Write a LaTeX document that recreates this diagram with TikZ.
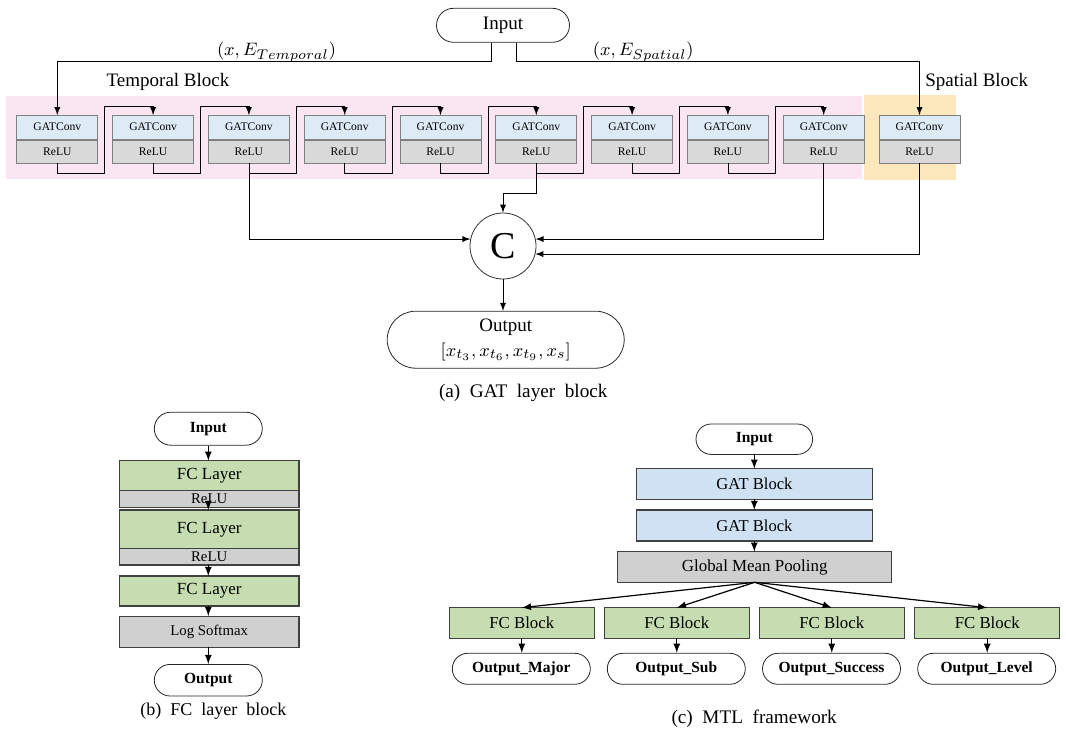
\documentclass[tikz,border=0pt]{standalone}
\usepackage{amsmath}
\usepackage{fontspec}
\setmainfont{Liberation Serif}
\usetikzlibrary{matrix, arrows, shapes.misc}

\definecolor{convblue}{HTML}{DDEBF7}
\definecolor{gatblue}{HTML}{CFE2F3}
\definecolor{relugray}{HTML}{D9D9D9}
\definecolor{poolgray}{HTML}{D0D0D0}
\definecolor{fcgreen}{HTML}{C5DDB1}
\definecolor{tempbg}{HTML}{FAE6F2}
\definecolor{spatbg}{HTML}{FDE8BE}

\begin{document}
\begin{tikzpicture}[x=0.5pt, y=-0.5pt, >=latex,
  term/.style={draw=black!85, rounded rectangle, inner sep=0pt},
  conv/.style={draw=black!50, fill=convblue, minimum width=40.5pt, minimum height=12pt, inner sep=0pt, outer sep=0pt, font=\fontsize{5.8}{6}\selectfont},
  relu/.style={conv, fill=relugray, minimum height=11.7pt},
  layer/.style={draw=black!75, line width=0.6pt, inner sep=0pt, outer sep=0pt},
  fcl/.style={layer, fill=fcgreen, minimum width=89.85pt, font=\fontsize{8.5}{9}\selectfont},
  actl/.style={layer, fill=poolgray, minimum width=89.85pt, font=\fontsize{7.4}{8}\selectfont},
  bigtxt/.style={font=\fontsize{9.5}{12.5}\selectfont},
  outtxt/.style={font=\bfseries\fontsize{7.75}{8}\selectfont},
  captxt/.style={font=\fontsize{9.6}{10}\selectfont}]
\useasboundingbox (0,0) rectangle (1066,734);
\fill[tempbg] (6,96) rectangle (861.7,179);
\fill[spatbg] (864,95) rectangle (956,180);

\node[term, bigtxt, minimum width=66.5pt, minimum height=17pt] (in) at (503,25.3) {Input};
\node[bigtxt] (et) at (276.5,52) {$(x, E_{Temporal})$};
\node[bigtxt] (es) at (643.3,52) {$(x, E_{Spatial})$};
\node[bigtxt] (tb) at (168,82) {Temporal Block};
\node[bigtxt] (sb) at (976.7,82) {Spatial Block};

\matrix (m) [anchor=north west, inner sep=0pt, column sep=7pt, row sep=0pt] at (16,114.3) {
\node[conv](g1){GATConv}; & \node[conv](g2){GATConv}; & \node[conv](g3){GATConv}; & \node[conv](g4){GATConv}; & \node[conv](g5){GATConv}; & \node[conv](g6){GATConv}; & \node[conv](g7){GATConv}; & \node[conv](g8){GATConv}; & \node[conv](g9){GATConv}; & \node[conv](gs){GATConv}; \\
\node[relu](r1){ReLU}; & \node[relu](r2){ReLU}; & \node[relu](r3){ReLU}; & \node[relu](r4){ReLU}; & \node[relu](r5){ReLU}; & \node[relu](r6){ReLU}; & \node[relu](r7){ReLU}; & \node[relu](r8){ReLU}; & \node[relu](r9){ReLU}; & \node[relu](rs){ReLU}; \\
};

\coordinate (a1) at (491.7,61.7);
\coordinate (a2) at (516,61.7);
\draw[->] (in.south -| a1) -- (a1) -| (g1.north);
\draw[->] (in.south -| a2) -- (a2) -| (gs.north);

\draw[->] (r1.south) -- ++(0,10) -| ++(47.5,-67.4) -| (g2.north);
\draw[->] (r2.south) -- ++(0,10) -| ++(47.5,-67.4) -| (g3.north);
\draw[->] (r3.south) -- ++(0,10) -| ++(47.5,-67.4) -| (g4.north);
\draw[->] (r4.south) -- ++(0,10) -| ++(47.5,-67.4) -| (g5.north);
\draw[->] (r5.south) -- ++(0,10) -| ++(47.5,-67.4) -| (g6.north);
\draw[->] (r6.south) -- ++(0,10) -| ++(47.5,-67.4) -| (g7.north);
\draw[->] (r7.south) -- ++(0,10) -| ++(47.5,-67.4) -| (g8.north);
\draw[->] (r8.south) -- ++(0,10) -| ++(47.5,-67.4) -| (g9.north);

\node[circle, draw=black!80, minimum size=33pt, inner sep=0pt, font=\fontsize{19}{20}\selectfont] (C) at (503,246) {C};
\draw[->] (r3.south) |- (C.168);
\draw[->] (r6.south) -- ++(0,30) -| (C.north);
\draw[->] (r9.south) |- (C.12);
\draw[->] (rs.south) |- (C.-14);

\node[term, bigtxt, minimum width=118.5pt, minimum height=28.5pt, align=center] (out) at (505.7,339.7) {Output\\$[x_{t_3}, x_{t_6}, x_{t_9}, x_s]$};
\draw[->] (C.south) -- (C.south |- out.north);
\node[captxt] (capa) at (523.3,393) {(a)\ \ GAT\ \ layer\ \ block};

\node[term, outtxt, minimum width=54pt, minimum height=16.5pt] (inb) at (208.3,428.7) {Input};
\node[fcl, minimum height=15pt] (fc1) at (209.2,475.7) {FC Layer};
\node[actl, minimum height=8.3pt] (ac1) at (209.2,499) {ReLU};
\node[fcl, minimum height=19.15pt] (fc2) at (209.2,529.2) {FC Layer};
\node[actl, minimum height=8.35pt] (ac2) at (209.2,556.7) {ReLU};
\node[fcl, minimum height=15pt] (fc3) at (209.2,591) {FC Layer};
\node[actl, minimum height=15.6pt] (lsm) at (209.2,631.7) {Log Softmax};
\node[term, outtxt, minimum width=54pt, minimum height=15.8pt] (outb) at (208.3,680.2) {Output};
\draw[->, line width=0.6pt] (inb.south) -- (inb.south |- fc1.north);
\draw[->, line width=0.6pt] (inb.south |- ac1.south) -- (inb.south |- fc2.north);
\draw[->, line width=0.6pt] (inb.south |- ac2.south) -- (inb.south |- fc3.north);
\draw[->, line width=0.6pt] (inb.south |- fc3.south) -- (inb.south |- lsm.north);
\draw[->, line width=0.6pt] (inb.south |- lsm.south) -- (outb.north);
\node[captxt, font=\fontsize{9}{10}\selectfont] (capb) at (213.3,710.7) {(b)\ \ FC\ \ layer\ \ block};

\node[term, outtxt, minimum width=58.3pt, minimum height=15.2pt] (inc) at (754.3,439.2) {Input};
\node[layer, fill=gatblue, minimum width=117.8pt, minimum height=15.3pt, font=\fontsize{8.3}{9}\selectfont] (gat1) at (754.5,484) {GAT Block};
\node[layer, fill=gatblue, minimum width=117.8pt, minimum height=15.5pt, font=\fontsize{8.3}{9}\selectfont] (gat2) at (754.5,525.5) {GAT Block};
\node[layer, fill=poolgray, minimum width=137pt, minimum height=15.3pt, font=\fontsize{8.45}{9}\selectfont] (gmp) at (754.7,567) {Global Mean Pooling};
\node[fcl, minimum width=72.5pt, minimum height=15.3pt, font=\fontsize{8.4}{9}\selectfont] (f1) at (521.8,623) {FC Block};
\node[fcl, minimum width=72.5pt, minimum height=15.3pt, font=\fontsize{8.4}{9}\selectfont] (f2) at (676.8,623) {FC Block};
\node[fcl, minimum width=72.5pt, minimum height=15.3pt, font=\fontsize{8.4}{9}\selectfont] (f3) at (831.8,623) {FC Block};
\node[fcl, minimum width=72.5pt, minimum height=15.3pt, font=\fontsize{8.4}{9}\selectfont] (f4) at (987.2,623) {FC Block};
\node[term, outtxt, minimum width=69pt, minimum height=15.5pt] (o1) at (521.3,668.8) {Output\_Major};
\node[term, outtxt, minimum width=69pt, minimum height=15.5pt] (o2) at (676.3,668.8) {Output\_Sub};
\node[term, outtxt, minimum width=69pt, minimum height=15.5pt] (o3) at (831.5,668.8) {Output\_Success};
\node[term, outtxt, minimum width=69pt, minimum height=15.5pt] (o4) at (986.7,668.8) {Output\_Level};
\draw[->, line width=0.6pt] (inc.south) -- (inc.south |- gat1.north);
\draw[->, line width=0.6pt] (inc.south |- gat1.south) -- (inc.south |- gat2.north);
\draw[->, line width=0.6pt] (inc.south |- gat2.south) -- (inc.south |- gmp.north);
\draw[->, line width=0.6pt] (gmp.south) -- (f1.north);
\draw[->, line width=0.6pt] (gmp.south) -- (f2.north);
\draw[->, line width=0.6pt] (gmp.south) -- (f3.north);
\draw[->, line width=0.6pt] (gmp.south) -- (f4.north);
\draw[->, line width=0.6pt] (f1.south) -- (f1.south |- o1.north);
\draw[->, line width=0.6pt] (f2.south) -- (f2.south |- o2.north);
\draw[->, line width=0.6pt] (f3.south) -- (f3.south |- o3.north);
\draw[->, line width=0.6pt] (f4.south) -- (f4.south |- o4.north);
\node[captxt] (capc) at (754.2,718.3) {(c)\ \ MTL\ \ framework};
\end{tikzpicture}
\end{document}
